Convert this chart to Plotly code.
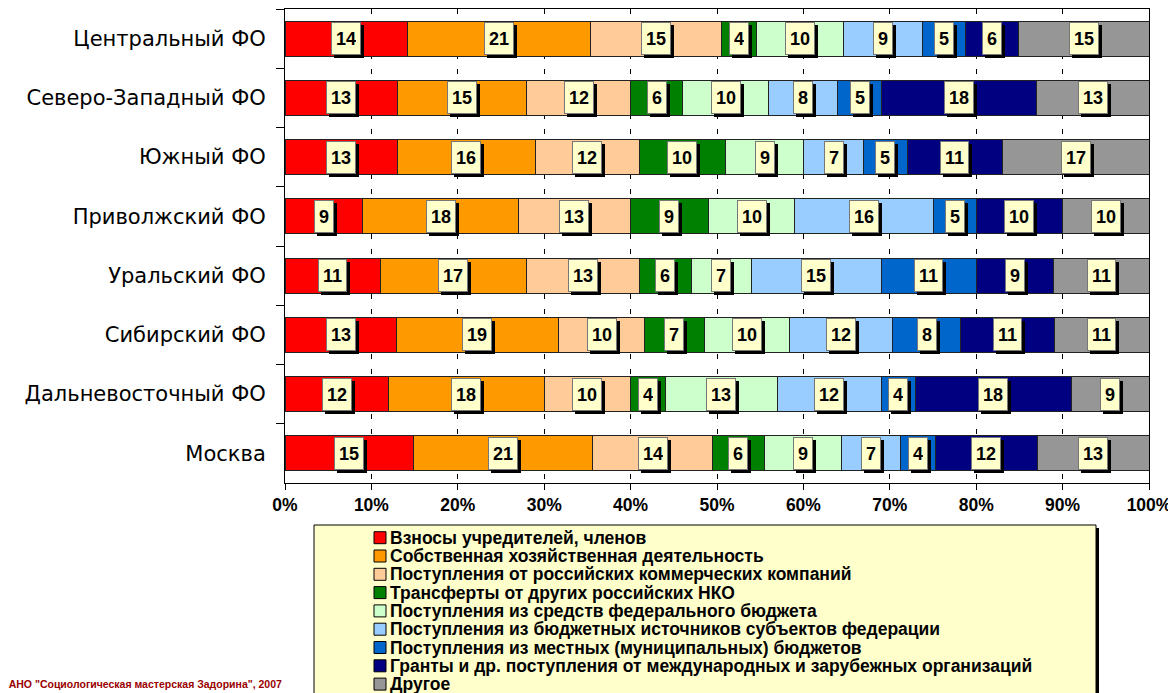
import plotly.graph_objects as go

# ---------------- data ----------------
regions = ["Центральный ФО", "Северо-Западный ФО", "Южный ФО", "Приволжский ФО",
           "Уральский ФО", "Сибирский ФО", "Дальневосточный ФО", "Москва"]

series_names = [
    "Взносы учредителей, членов",
    "Собственная хозяйственная деятельность",
    "Поступления от российских коммерческих компаний",
    "Трансферты от других российских НКО",
    "Поступления из средств федерального бюджета",
    "Поступления из бюджетных источников субъектов федерации",
    "Поступления из местных (муниципальных) бюджетов",
    "Гранты и др. поступления от международных и зарубежных организаций",
    "Другое",
]

vznosy = [14, 13, 13, 9, 11, 13, 12, 15]
sobstv = [21, 15, 16, 18, 17, 19, 18, 21]
kommerch = [15, 12, 12, 13, 13, 10, 10, 14]
transfer = [4, 6, 10, 9, 6, 7, 4, 6]
federal = [10, 10, 9, 10, 7, 10, 13, 9]
subjekt = [9, 8, 7, 16, 15, 12, 12, 7]
mestnye = [5, 5, 5, 5, 11, 8, 4, 4]
granty = [6, 18, 11, 10, 9, 11, 18, 12]
drugoe = [15, 13, 17, 10, 11, 11, 9, 13]

series_values = [vznosy, sobstv, kommerch, transfer, federal, subjekt, mestnye, granty, drugoe]

colors = ["#FF0000", "#FF9900", "#FFCC99", "#008000", "#CCFFCC",
          "#99CCFF", "#0066CC", "#000080", "#969696"]

x_ticks = [0, 10, 20, 30, 40, 50, 60, 70, 80, 90, 100]
copyright_text = '© АНО "Социологическая мастерская Задорина", 2007'

# ---------------- layout geometry ----------------
OFF = 8                      # page body margin of the html page
W, H = 1176 - OFF, 693 - OFF
ML, MR, MT, MB = 285 - OFF, 27, 1, 210
PW, PH = W - ML - MR, H - MT - MB


def px_x(p):
    """page pixel x -> paper fraction"""
    return (p - OFF - ML) / PW


def px_y(p):
    """page pixel y -> paper fraction"""
    return (H - MB - (p - OFF)) / PH


FONT = "Liberation Sans, Arial, sans-serif"

fig = go.Figure()
for name, vals, col in zip(series_names, series_values, colors):
    fig.add_trace(go.Bar(
        y=regions, x=vals, name=name, orientation="h",
        marker=dict(color=col, line=dict(color="#222222", width=1)),
        hoverinfo="name+x+y", showlegend=False,
    ))

annotations = []
# data labels (centered in each segment, with shadow)
totals = [sum(v[i] for v in series_values) for i in range(len(regions))]
for i, reg in enumerate(regions):
    cum = 0.0
    for vals in series_values:
        v = vals[i]
        mid = (cum + v / 2) / totals[i] * 100
        cum += v
        txt = str(v)
        common = dict(x=mid, y=reg, xref="x", yref="y", text="<b>%s</b>" % txt,
                      showarrow=False, borderpad=4, borderwidth=1, height=23,
                      xanchor="center", yanchor="middle")
        annotations.append(dict(common, bgcolor="#000000", bordercolor="#000000",
                                xshift=3, yshift=-3,
                                font=dict(family=FONT, size=18, color="#000000")))
        annotations.append(dict(common, bgcolor="#FFFFCC", bordercolor="#777777",
                                font=dict(family=FONT, size=18, color="#000000")))

shapes = []
# legend box with shadow
lx0, lx1, ly0, ly1 = 314, 1096, 525, 720
shapes.append(dict(type="rect", xref="paper", yref="paper",
                   x0=px_x(lx0 + 3), x1=px_x(lx1 + 3), y0=px_y(ly0 + 3), y1=px_y(ly1 + 3),
                   fillcolor="#000000", line=dict(width=0), layer="above"))
shapes.append(dict(type="rect", xref="paper", yref="paper",
                   x0=px_x(lx0), x1=px_x(lx1), y0=px_y(ly0), y1=px_y(ly1),
                   fillcolor="#FFFFCC", line=dict(color="#000000", width=1), layer="above"))

row0, step = 537.7, 18.3
for k, (name, col) in enumerate(zip(series_names, colors)):
    yc = row0 + k * step
    shapes.append(dict(type="rect", xref="paper", yref="paper",
                       x0=px_x(374), x1=px_x(386), y0=px_y(yc + 6), y1=px_y(yc - 6),
                       fillcolor=col, line=dict(color="#000000", width=1), layer="above"))
    annotations.append(dict(x=px_x(388), y=px_y(yc), xref="paper", yref="paper",
                            text="<b>%s</b>" % name, showarrow=False,
                            xanchor="left", yanchor="middle",
                            font=dict(family=FONT, size=17.5, color="#000000")))

annotations.append(dict(x=px_x(284), y=px_y(684), xref="paper", yref="paper",
                        text="<b>%s</b>" % copyright_text, showarrow=False,
                        xanchor="right", yanchor="middle",
                        font=dict(family=FONT, size=10.5, color="#990000")))

fig.update_layout(
    width=W, height=H,
    margin=dict(l=ML, r=MR, t=MT, b=MB, pad=0),
    barmode="stack", barnorm="percent", bargap=0.41,
    plot_bgcolor="#FFFFFF", paper_bgcolor="#FFFFFF",
    annotations=annotations, shapes=shapes,
    font=dict(family=FONT, color="#000000"),
)
fig.update_xaxes(
    range=[0, 100], tickvals=x_ticks, ticktext=["%d%%" % t for t in x_ticks],
    tickfont=dict(family=FONT, size=17.5, color="#000000", weight="bold"),
    showline=True, linecolor="#000000", linewidth=1, mirror=True,
    ticks="outside", ticklen=6, tickcolor="#000000",
    showgrid=True, gridcolor="#000000", gridwidth=1, griddash="5px,10px",
    zeroline=False, fixedrange=True,
)
fig.update_yaxes(
    autorange="reversed", categoryorder="array", categoryarray=regions,
    tickfont=dict(family="DejaVu Sans, Verdana, sans-serif", size=21, color="#000000"),
    showline=True, linecolor="#000000", linewidth=1, mirror=True,
    ticks="outside", ticklen=8, tickcolor="#000000", tickson="boundaries",
    ticklabelstandoff=14, showgrid=False, zeroline=False, fixedrange=True,
)

fig.write_html("out.html")
